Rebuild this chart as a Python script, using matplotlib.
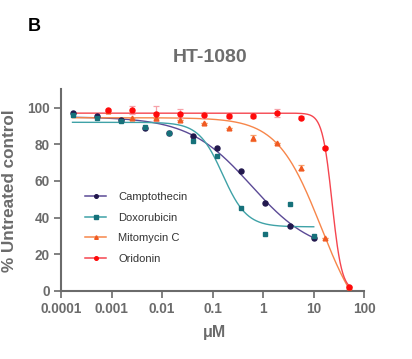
import numpy as np
import matplotlib
matplotlib.use("Agg")
import matplotlib.pyplot as plt
from matplotlib.lines import Line2D

plt.rcParams['font.family'] = ['Liberation Sans', 'DejaVu Sans']

# concentrations (uM), 3-fold dilutions
conc_cd = [0.000169, 0.000508, 0.00152, 0.00457, 0.0137, 0.0412, 0.123, 0.370, 1.11, 3.33, 10]
conc_mo = [0.000847, 0.00254, 0.00762, 0.0229, 0.0686, 0.206, 0.617, 1.85, 5.56, 16.7, 50]

campto = [97.2, 95.5, 93.5, 88.7, 86.0, 84.5, 78.0, 65.6, 47.9, 35.7, 28.8]
doxo = [96.0, 94.6, 92.8, 89.5, 86.0, 81.8, 73.6, 45.0, 31.0, 47.2, 30.0]
mito = [98.3, 94.4, 94.2, 93.4, 91.4, 89.0, 83.4, 80.7, 67.2, 29.1, 2.0]
orid = [98.5, 98.5, 96.8, 96.6, 96.0, 95.6, 95.6, 97.1, 94.6, 78.0, 2.0]

mito_err = [0, 0, 0, 0, 0, 0, 1.8, 0, 1.4, 0, 0]
orid_err = [0.5, 2.2, 4.0, 2.5, 1.5, 1.0, 1.2, 2.3, 1.0, 0.5, 0.5]

# 4PL fit parameters: top, bottom, IC50, hill
campto_fit = (95, 20, 0.58, 0.7)
doxo_fit = (92, 35, 0.158, 1.83)
mito_fit = (94.5, -25, 14, 1.0)
orid_fit = (97, 0, 23, 4.5)

labels = ["Camptothecin", "Doxorubicin", "Mitomycin C", "Oridonin"]
line_colors = ["#5b4a96", "#3fa2a7", "#f7864a", "#f5454f"]
mark_colors = ["#22184d", "#16717a", "#f05a22", "#ff0a0a"]
err_colors = ["#22184d", "#16717a", "#f9a36e", "#f7a1a8"]
markers = ["o", "s", "^", "o"]
marker_sizes = [3.6, 3.4, 3.4, 3.6]

gray = "#6b6b6b"


def four_pl(x, top, bottom, ic50, hill):
    return bottom + (top - bottom) / (1 + (x / ic50) ** hill)


fig = plt.figure(figsize=(4.12, 3.59), dpi=100)
ax = fig.add_axes([61 / 412, 68 / 359, (364.3 - 61) / 412, (291 - 89.3) / 359])

series = [
    (conc_cd, campto, None, campto_fit, 10),
    (conc_cd, doxo, None, doxo_fit, 10),
    (conc_mo, mito, mito_err, mito_fit, 50),
    (conc_mo, orid, orid_err, orid_fit, 50),
]

x_start = min(conc_cd)
for i, (xs, ys, err, fit, x_end) in enumerate(series):
    xx = np.logspace(np.log10(x_start), np.log10(x_end), 400)
    ax.plot(xx, four_pl(xx, *fit), color=line_colors[i], lw=1.0, zorder=2)
    if err is not None:
        ax.errorbar(xs, ys, yerr=err, fmt="none", ecolor=err_colors[i],
                    elinewidth=0.9, capsize=2, capthick=0.9, zorder=3)
    ax.plot(xs, ys, ls="none", marker=markers[i], ms=marker_sizes[i],
            color=mark_colors[i], mec=mark_colors[i], zorder=4)

ax.set_xscale("log")
ax.set_xlim(1e-4, 100)
ax.set_ylim(0, 110)
ax.set_xticks([1e-4, 1e-3, 1e-2, 1e-1, 1, 10, 100])
ax.set_xticklabels(["0.0001", "0.001", "0.01", "0.1", "1", "10", "100"])
ax.xaxis.set_minor_locator(matplotlib.ticker.NullLocator())
ax.set_yticks([0, 20, 40, 60, 80, 100])

for s in ["top", "right"]:
    ax.spines[s].set_visible(False)
for s in ["left", "bottom"]:
    ax.spines[s].set_color(gray)
    ax.spines[s].set_linewidth(1.5)
ax.tick_params(direction="out", length=5, width=1.2, color=gray,
               labelcolor=gray, labelsize=9.8, pad=3)
for lab in ax.get_xticklabels() + ax.get_yticklabels():
    lab.set_fontweight("bold")

fig.text(28 / 412, 1 - 26.5 / 359, "B", va="center", ha="left",
         fontsize=13, fontweight="bold", color="black")
fig.text(210 / 412, 1 - 57 / 359, "HT-1080", va="center", ha="center",
         fontsize=14, fontweight="bold", color="#6d6d6d")
fig.text(10 / 412, 1 - 191 / 359, "% Untreated control", rotation=90,
         va="center", ha="center", fontsize=12.3, fontweight="bold", color=gray)
fig.text(214 / 412, 1 - 333 / 359, "μM", va="center", ha="center",
         fontsize=11.5, fontweight="bold", color=gray)

handles = [
    Line2D([], [], color=line_colors[i], lw=1.1, marker=markers[i], ms=2.6,
           mfc=mark_colors[i], mec=mark_colors[i])
    for i in range(4)
]
ax.legend(handles, labels, loc="upper left",
          bbox_to_anchor=(85 / 412, 1 - 192 / 359),
          bbox_transform=fig.transFigure, frameon=False, fontsize=8,
          borderpad=0, borderaxespad=0, handlelength=1.9, handletextpad=1.1,
          labelspacing=0.95, labelcolor="#333333", numpoints=1)

fig.savefig("out.png", dpi=100)
